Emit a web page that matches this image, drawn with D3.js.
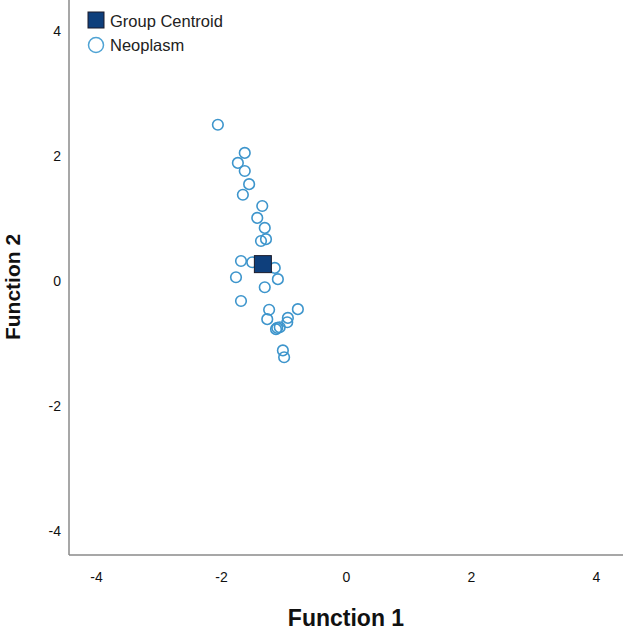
<!DOCTYPE html>
<html>
<head>
<meta charset="utf-8">
<style>
    body { margin: 0; background: #fff; }
    svg { display: block; font-family: 'Liberation Sans', Arial, sans-serif; }
    .tick text { font-size: 14px; fill: #111; }
    .axis-title { font-size: 23px; font-weight: bold; fill: #111; }
    .legend-text { font-size: 16.5px; fill: #222; }
</style>
</head>
<body>
<svg width="626" height="631"></svg>

<script src="https://d3js.org/d3.v7.min.js"></script>
<script>
    // Neoplasm cases: discriminant function scores
    let fn1 = [-2.05, -1.62, -1.73, -1.62, -1.55, -1.65, -1.34, -1.42, -1.30, -1.36, -1.28,
               -1.68, -1.50, -1.14, -1.76, -1.09, -1.30, -1.68, -1.23, -1.26, -0.77, -0.93,
               -0.94, -1.06, -1.10, -1.12, -1.01, -0.99]
    let fn2 = [2.50, 2.05, 1.89, 1.76, 1.55, 1.38, 1.20, 1.01, 0.85, 0.64, 0.67,
               0.32, 0.30, 0.21, 0.06, 0.03, -0.10, -0.32, -0.46, -0.61, -0.45, -0.59,
               -0.66, -0.74, -0.75, -0.77, -1.11, -1.22]

    let centroid = [-1.33, 0.27]
    let ticks = [-4, -2, 0, 2, 4]

    let svg = d3.select("svg")

    let x = d3.scaleLinear().domain([-4.432, 4.432]).range([69, 623])
    let y = d3.scaleLinear().domain([-4.384, 4.496]).range([555, 0])

    // axis lines
    svg.append("line")
        .attr("x1", x(-4.432)).attr("x2", x(-4.432))
        .attr("y1", y(4.496)).attr("y2", y(-4.384))
        .style("stroke", "#8a8a8a").style("stroke-width", 1.5)
    svg.append("line")
        .attr("x1", x(-4.432)).attr("x2", x(4.432))
        .attr("y1", y(-4.384)).attr("y2", y(-4.384))
        .style("stroke", "#8a8a8a").style("stroke-width", 1.5)

    // plain hyphen for negatives, like the original
    let fmt = (d) => String(d)

    svg.append("g")
        .attr("transform", "translate(0," + (y(-4.384) + 11) + ")")
        .call(d3.axisBottom(x).tickValues(ticks).tickSize(0).tickPadding(6).tickFormat(fmt))
        .call(g => g.select(".domain").remove())

    svg.append("g")
        .attr("transform", "translate(" + (x(-4.432) - 2) + ",0)")
        .call(d3.axisLeft(y).tickValues(ticks).tickSize(0).tickPadding(6).tickFormat(fmt))
        .call(g => g.select(".domain").remove())

    svg.selectAll(".tick text").style("font-family", "'Liberation Sans', Arial, sans-serif")

    // titles
    svg.append("text")
        .attr("class", "axis-title")
        .attr("x", x(0)).attr("y", 626)
        .attr("text-anchor", "middle")
        .text("Function 1")
    svg.append("text")
        .attr("class", "axis-title")
        .attr("transform", "translate(20,287) rotate(-90)")
        .attr("text-anchor", "middle")
        .style("font-size", "21px")
        .text("Function 2")

    // points
    svg.selectAll(".case")
        .data(fn1)
        .join("circle")
        .attr("class", "case")
        .attr("cx", (d) => x(d))
        .attr("cy", (d, i) => y(fn2[i]))
        .attr("r", 5.3)
        .style("fill", "none")
        .style("stroke", "#3d95cc")
        .style("stroke-width", 1.6)

    // centroid
    let s = 17
    svg.append("rect")
        .attr("x", x(centroid[0]) - s / 2)
        .attr("y", y(centroid[1]) - s / 2)
        .attr("width", s).attr("height", s)
        .style("fill", "#0e3f7c")
        .style("stroke", "#1b1b2a")
        .style("stroke-width", 1)

    // legend
    svg.append("rect")
        .attr("x", 88).attr("y", 12).attr("width", 16).attr("height", 16)
        .style("fill", "#0e3f7c").style("stroke", "#1b1b2a").style("stroke-width", 1)
    svg.append("text").attr("class", "legend-text")
        .attr("x", 110).attr("y", 27).text("Group Centroid")
    svg.append("circle")
        .attr("cx", 96).attr("cy", 45).attr("r", 7.5)
        .style("fill", "none").style("stroke", "#4fa3d4").style("stroke-width", 1.5)
    svg.append("text").attr("class", "legend-text")
        .attr("x", 110).attr("y", 51).text("Neoplasm")
</script>
</body>
</html>
